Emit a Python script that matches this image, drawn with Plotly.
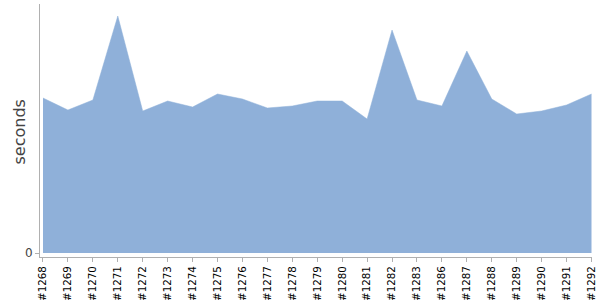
import plotly.graph_objects as go

builds = ["#1268", "#1269", "#1270", "#1271", "#1272", "#1273", "#1274", "#1275",
          "#1276", "#1277", "#1278", "#1279", "#1280", "#1281", "#1282", "#1283",
          "#1286", "#1287", "#1288", "#1289", "#1290", "#1291", "#1292"]
seconds = [15.5, 14.3, 15.3, 23.7, 14.2, 15.2, 14.6, 15.9,
           15.4, 14.5, 14.7, 15.2, 15.2, 13.4, 22.3, 15.3,
           14.7, 20.2, 15.4, 13.9, 14.2, 14.8, 15.9]
y_ticks = [0]
y_tick_text = ["0"]
y_title = "seconds"

fig = go.Figure()
fig.add_trace(go.Scatter(
    x=builds, y=seconds, mode="lines", fill="tozeroy",
    line=dict(width=0.5, color="rgba(143,176,217,1)", shape="linear"),
    fillcolor="rgb(143,176,217)", hoverinfo="x+y"))

fig.update_layout(
    width=600, height=300,
    margin=dict(l=40, r=8, t=4, b=43),
    plot_bgcolor="white", paper_bgcolor="white",
    showlegend=False,
    font=dict(family="DejaVu Sans", color="#000"),
)
fig.add_annotation(
    text=y_title, textangle=-90, showarrow=False,
    xref="paper", yref="paper", x=0, y=0.5, xanchor="center", yanchor="middle",
    xshift=-21, yshift=-2,
    font=dict(size=16, color="#444"),
)
fig.update_xaxes(
    type="category", range=[-0.12, 22.02], automargin=False,
    tickangle=-90, tickfont=dict(size=10.3, color="#000"),
    showline=True, linecolor="#b0b0b0", linewidth=1,
    ticks="outside", ticklen=4, tickcolor="#b0b0b0",
    showgrid=False, zeroline=False,
)
fig.update_yaxes(
    range=[-0.4, 24.9], tickvals=y_ticks, ticktext=y_tick_text, automargin=False,
    tickfont=dict(size=12, color="#444"),
    showline=True, linecolor="#b0b0b0", linewidth=1,
    ticks="outside", ticklen=4, tickcolor="#b0b0b0",
    showgrid=False, zeroline=False,
)
fig.write_html("out.html")
